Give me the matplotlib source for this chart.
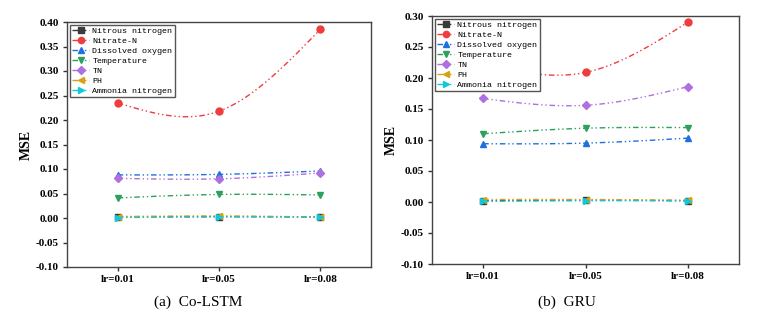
import numpy as np
import matplotlib
matplotlib.use("Agg")
import matplotlib.pyplot as plt
from matplotlib.lines import Line2D

categories = ["lr=0.01", "lr=0.05", "lr=0.08"]
series_names = ["Nitrous nitrogen", "Nitrate-N", "Dissolved oxygen", "Temperature",
                "TN", "PH", "Ammonia nitrogen"]

colstm = {
    "Nitrous nitrogen": [0.002, 0.003, 0.002],
    "Nitrate-N": [0.235, 0.218, 0.385],
    "Dissolved oxygen": [0.088, 0.089, 0.096],
    "Temperature": [0.041, 0.048, 0.047],
    "TN": [0.081, 0.080, 0.092],
    "PH": [0.003, 0.004, 0.002],
    "Ammonia nitrogen": [0.001, 0.002, 0.002],
}
gru = {
    "Nitrous nitrogen": [0.002, 0.003, 0.002],
    "Nitrate-N": [0.222, 0.209, 0.290],
    "Dissolved oxygen": [0.094, 0.095, 0.103],
    "Temperature": [0.110, 0.119, 0.120],
    "TN": [0.167, 0.156, 0.186],
    "PH": [0.004, 0.004, 0.003],
    "Ammonia nitrogen": [0.001, 0.002, 0.002],
}

colors = ["#3a3a3a", "#f03c3c", "#1f6fe0", "#2ea05e", "#b06fe0", "#d9a010", "#10c8d8"]
markers = ["s", "o", "^", "v", "D", "<", ">"]
msizes = [4.5, 5, 5, 5, 4.5, 5, 5]


def natural_spline(y, n=60):
    y = np.asarray(y, float)
    m1 = 1.5 * (y[0] - 2 * y[1] + y[2])
    xs, ys = [], []
    for i in range(2):
        t = np.linspace(0, 1, n)
        Ma = 0 if i == 0 else m1
        Mb = m1 if i == 0 else 0
        a, b = y[i], y[i + 1]
        s = (Ma * (1 - t) ** 3 / 6 + Mb * t ** 3 / 6
             + (a - Ma / 6) * (1 - t) + (b - Mb / 6) * t)
        xs.append(i + t)
        ys.append(s)
    return np.concatenate(xs), np.concatenate(ys)


serif = "Liberation Serif"
mono = "Liberation Mono"
ls = (0, (4, 2, 1, 2, 1, 2))

fig = plt.figure(figsize=(7.68, 3.2), dpi=100)
ax1 = fig.add_axes([67 / 768, 1 - 267 / 320, (371 - 67) / 768, (267 - 22) / 320])
ax2 = fig.add_axes([432 / 768, 1 - 264 / 320, (739 - 432) / 768, (264 - 16) / 320])


def draw(ax, data, ylim, yticks):
    x = np.arange(len(categories))
    for name, c, m, ms in zip(series_names, colors, markers, msizes):
        xs, ys = natural_spline(data[name])
        ax.plot(xs, ys, color=c, lw=1.0, linestyle=ls)
        ax.plot(x, data[name], linestyle="none", marker=m, color=c, ms=ms)
    ax.set_xlim(-0.5, 2.5)
    ax.set_ylim(*ylim)
    ax.set_xticks(x)
    ax.set_xticklabels(categories)
    ax.set_yticks(yticks)
    ax.set_yticklabels([f"{v:.2f}" for v in yticks])
    for lab in ax.get_xticklabels() + ax.get_yticklabels():
        lab.set_fontfamily(serif)
        lab.set_fontweight("bold")
        lab.set_fontsize(8)
    ax.tick_params(direction="out", length=3, width=1, color="#333333", pad=3)
    ax.tick_params(axis="x", pad=3)
    for sp in ax.spines.values():
        sp.set_color("#444444")
        sp.set_linewidth(1.0)
    ax.set_ylabel("MSE", fontfamily=serif, fontweight="bold", fontsize=10, labelpad=2)
    handles = [Line2D([], [], color=c, marker=m, ms=ms - 0.5, lw=1.0, linestyle=ls)
               for c, m, ms in zip(colors, markers, msizes)]
    ax.legend(handles, series_names, loc="upper left", prop={"family": mono, "size": 6},
              frameon=True, fancybox=False, edgecolor="#555555", framealpha=1,
              borderpad=0.3, labelspacing=0.25, handlelength=2.0, handletextpad=0.4,
              borderaxespad=0.35)


draw(ax1, colstm, (-0.1, 0.4), np.round(np.arange(-0.1, 0.401, 0.05), 2))
draw(ax2, gru, (-0.1, 0.3), np.round(np.arange(-0.1, 0.301, 0.05), 2))

fig.text(198 / 768, 1 - 302 / 320, "(a)  Co-LSTM", ha="center", va="center",
         fontfamily=serif, fontsize=11)
fig.text(567 / 768, 1 - 302 / 320, "(b)  GRU", ha="center", va="center",
         fontfamily=serif, fontsize=11)

fig.savefig("out.png", dpi=100)
